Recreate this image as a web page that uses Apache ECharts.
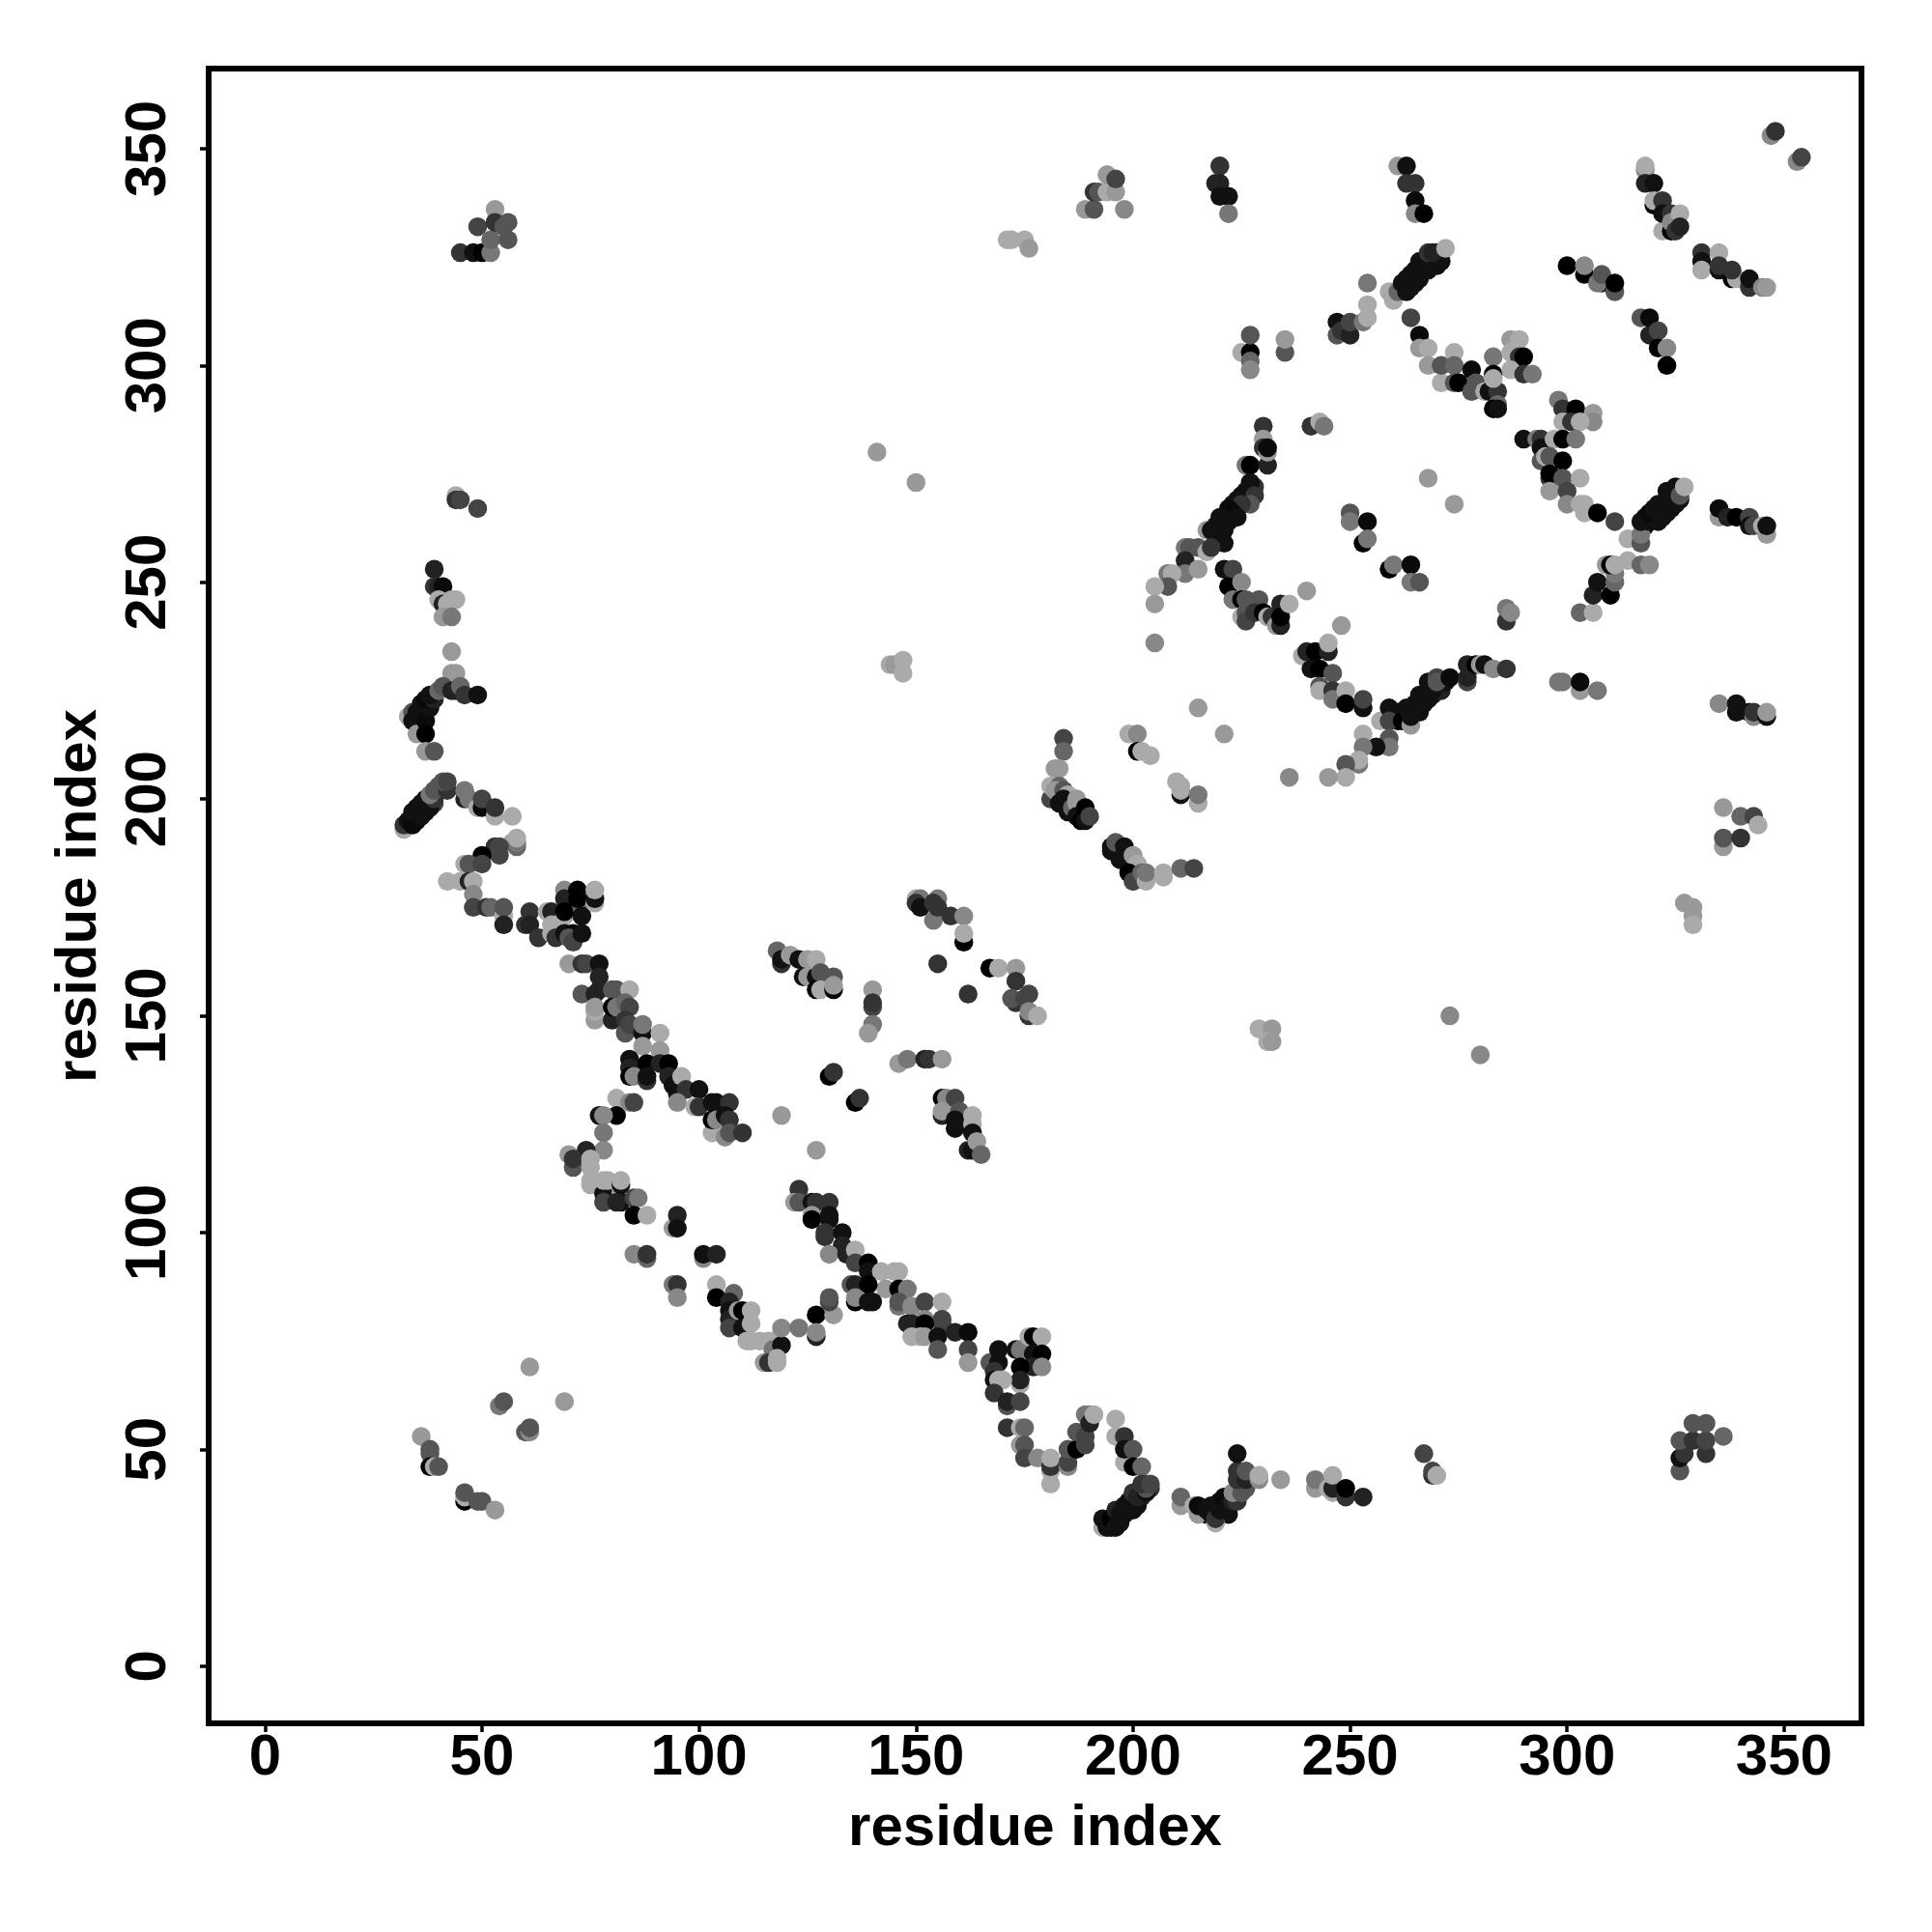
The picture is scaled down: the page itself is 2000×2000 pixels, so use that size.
<!DOCTYPE html>
<html>
<head>
<meta charset="utf-8">
<script src="https://cdn.jsdelivr.net/npm/echarts@6/dist/echarts.min.js"></script>
<style>html,body{margin:0;padding:0;background:#fff}#c{width:2000px;height:2000px}</style>
</head>
<body>
<div id="c"></div>
<script>
const tickValues = [0, 50, 100, 150, 200, 250, 300, 350];
const axisTitle = "residue index";
// each point: [residue i, residue j, grey level]
const denseBands = [
[267,323,17],[269,324,34],[270,325,17],[266,320,17],[267,322,17],[268,323,17],[270,326,17],[271,326,34],[270,323,17],
[260,219,17],[261,220,10],[261,218,10],[262,220,17],[263,219,17],[264,221,17],[265,220,17],[266,222,17],[266,220,17],[267,224,17],[268,223,17],[269,224,17],[270,226,85],[271,227,68],[271,225,34],[272,227,17],
[219,263,17],[221,265,17],[222,266,17],[223,268,10],[224,267,17],[225,270,17],[226,271,17],[226,269,17],[228,272,51],[219,261,17],[220,261,17],
[318,263,17],[321,264,17],[322,265,17],[323,266,17],[324,267,17],[325,268,17],[325,270,17],[324,270,17],[326,271,34],
[33,194,17],[35,195,10],[35,197,10],[36,198,17],[37,198,17],[38,199,17],[37,197,17],[39,199,68],
[36,218,17],[36,220,10],[37,220,17],[37,222,17],[38,222,10],[36,216,10],[35,219,10],[38,223,17],[39,224,51],
[195,33,10],[196,34,10],[197,34,17],[198,36,17],[199,37,17],[200,38,34],[200,36,17],[201,38,34],[202,40,51],[202,39,51],[203,42,68],[204,41,51],
[216,36,10],[217,35,10],[219,36,17],[220,37,17],[220,38,10],[221,38,17],[222,39,17],[223,39,17],[222,35,17],[224,40,51],[225,42,85]
];
const leftUpper = [
[44,270,170],[44,269,51],[45,269,68],[49,267,68],[39,253,34],[39,249,51],[40,249,34],[41,249,10],[40,246,170],[41,245,34],[42,245,170],[43,246,170],[44,246,170],[41,242,153],[43,242,119],[43,234,153],[43,229,153],[44,229,153],
[33,219,170],[34,220,85],[35,220,17],[34,218,17],[35,217,17],[35,215,153],[37,218,10],[37,215,0],[36,222,17],[38,221,17],[37,223,10],[39,223,34],[38,224,17],[40,225,102],[41,226,85],[43,225,34],[44,225,34],[45,226,102],[46,224,51],[49,224,17],[37,211,153],[39,211,85]
];
const leftLower = [
[32,193,170],[32,194,51],[33,195,17],[34,194,10],[34,197,17],[36,196,17],[35,198,17],[36,199,17],[38,198,17],[37,200,17],[39,200,51],[38,201,119],[39,202,85],[40,203,85],[42,202,51],[41,204,85],[42,204,68],
[46,200,34],[46,202,119],[47,200,119],[49,198,170],[50,198,10],[50,200,68],[53,196,170],[53,198,51],[57,196,170],
[57,190,170],[58,189,102],[58,190,119],[58,191,170],[53,189,51],[54,189,68],[54,187,68],[50,187,0],[46,185,170],[47,185,85],[50,185,68],
[42,181,170],[45,181,170],[47,181,34],[48,181,170],[48,178,136],[48,175,68],[51,175,51],[52,175,102],[55,173,170],[55,175,85],[55,171,34]
];
const cornerCluster = [
[61,174,51],[60,171,51],[61,171,34],[63,168,51],[65,174,170],[66,174,34],[66,171,170],[66,169,170],[67,169,170],[67,168,51],[69,173,170],[69,179,136],[69,177,34],[69,174,0],[69,169,17],[71,169,0],[70,168,85],[71,167,68],[73,175,102],[73,173,17],[73,169,17],[72,177,0],[72,179,0],[76,176,170],[76,177,17],[76,179,170]
];
const mainUpper = [
[70,162,153],[73,162,51],[74,162,68],[77,162,17],[77,159,34],[73,155,85],[76,155,34],[77,156,34],[80,156,85],[81,156,85],[84,156,170],
[76,149,153],[76,151,170],[76,152,153],[80,149,34],[80,152,0],[81,152,119],[83,153,102],[84,152,68],[83,149,51],[83,146,85],[84,148,68],[87,146,17],[87,148,119],[87,143,153],[91,146,170],[91,142,153],
[84,140,17],[84,138,34],[84,136,0],[85,136,136],[88,139,0],[88,135,51],[88,136,17],[91,139,34],[93,139,0],[93,136,34],[94,134,17],[96,136,170],[95,132,17],[97,133,51],[100,133,17],[95,130,136],[99,129,170],[100,129,51],[103,130,17],[104,130,17],[107,130,51],[103,123,170],[103,126,0],[104,126,136],[106,127,17],[106,122,136],[107,126,51],[107,123,85],[110,123,51]
];
const mainLowerLeft = [
[81,131,170],[81,127,0],[84,130,136],[85,130,68],[77,127,17],[78,127,136],[78,123,119],[78,119,136],[74,119,34],[70,118,153],[71,115,85],[71,117,51],[75,117,170],[75,115,170],[75,112,170],[75,111,170],
[78,109,17],[78,107,68],[78,112,170],[79,112,170],[82,109,170],[82,107,17],[81,107,34],[82,111,17],[82,112,170],[85,108,68],[86,108,119],[85,104,0],[88,104,170],[94,101,153],[95,104,34],[95,101,17],
[85,95,136],[88,94,102],[88,95,51],[101,94,136],[101,95,17],[104,95,34],[94,88,119],[95,88,51],[95,85,136],
[104,88,170],[104,85,0],[108,86,102],[107,84,34],[107,82,17],[107,80,34],[107,78,68],[109,82,153],[110,82,0],[112,82,170],[110,78,17],[112,79,170],[111,75,170],[112,75,170],[114,75,170],[116,75,170],[117,75,170],[117,73,119],[119,74,17],[115,70,153],[116,70,51],[118,71,170],[118,70,170],[119,78,136],[123,78,119],[127,81,0],[131,81,153],[127,76,34],[127,77,136],[130,84,68],[130,85,85]
];
const midIslands = [
[118,165,102],[119,162,51],[119,163,17],[121,164,153],[123,163,17],[125,163,153],[127,163,170],[124,159,17],[125,159,153],[127,159,17],[128,160,85],[131,159,85],[127,156,0],[128,156,170],[131,156,0],[131,157,153],
[140,156,153],[140,152,68],[140,153,51],[140,148,119],[139,146,153],
[150,177,170],[151,177,119],[150,176,51],[151,175,17],[155,177,119],[154,176,51],[154,172,119],[155,175,51],[158,173,51],[161,173,136],[161,167,0],[161,169,170],
[155,162,51],[162,155,51],[167,161,0],[169,161,170],[173,161,153],[173,158,51],[173,153,51],[172,154,85],[175,154,68],[176,155,68],[176,150,51],[176,151,136],[178,150,170],
[146,139,153],[148,140,119],[152,140,34],[153,140,51],[156,140,153],[130,136,0],[131,137,51],[136,130,0],[137,131,51],[119,127,153],[127,119,153],
[156,131,0],[157,131,136],[159,131,68],[156,127,34],[156,128,153],[160,128,85],[159,126,17],[159,124,17],[163,127,170],[163,125,170],[163,123,17],[162,119,34],[163,119,17],[164,121,153],[165,118,102]
];
const mainLower = [
[123,110,51],[122,107,153],[123,107,85],[126,107,17],[127,107,51],[130,107,51],[126,104,153],[126,103,0],[130,104,17],[130,103,17],[129,99,51],[129,100,51],[133,100,17],[133,97,34],[130,95,136],[134,95,34],[136,96,170],[136,93,68],[139,93,0],[139,91,17],[142,91,170],[145,91,170],[146,91,170],[143,87,153],[135,88,85],[136,88,34],[139,88,0],[136,84,0],[136,85,136],[139,84,17],[140,84,17],[146,87,0],[148,87,119],[146,83,119],[146,84,85],[149,83,136],[152,84,68],[156,84,170],[152,80,136],[156,79,68],[156,80,68],[148,79,34],[149,79,34],[152,79,0],[149,76,170],[151,76,170],[152,76,153],[155,76,17],[159,77,34],[162,77,10],[162,73,68],[155,73,85],[162,70,153],
[167,70,85],[169,73,17],[169,70,17],[168,68,51],[173,73,17],[174,73,119],[176,76,170],[177,76,0],[179,76,170],[177,72,17],[179,72,0],[177,69,34],[179,69,136],[174,65,170],[174,69,0],[174,66,34],[168,66,17],[169,66,170],[170,66,170],[168,63,51],[171,60,85],[171,61,34],[174,61,68],
[171,55,51],[174,55,170],[175,55,102],[174,51,153],[175,51,85],[175,48,68],[178,48,136],[181,42,170],[181,45,170],[181,46,51],[181,48,170],[185,46,136],[185,47,68],[185,50,85],[187,50,0],[187,54,85],[189,53,68],[189,51,68],[189,58,119],[190,58,119],[190,56,34],[191,58,170],
[196,53,170],[196,57,170],[198,47,170],[198,53,51],[198,50,17],[200,50,85],[200,46,0],[202,46,102],[193,32,170],[193,34,17],[194,32,17],[194,33,17],[195,32,17],[195,34,0],[196,32,17],[196,36,34],[197,33,17],[197,35,17],[198,35,17],[198,37,17],[199,36,17],[199,38,17],[200,40,51],[201,37,17],[201,39,34],[203,40,17],[203,41,85],[202,42,51],[204,42,68]
];
const bottomRun = [
[211,37,153],[211,39,102],[214,37,170],[215,35,153],[215,37,10],[217,36,17],[218,35,17],[218,37,17],[219,33,170],[219,34,51],[220,36,17],[221,36,17],[221,39,10],[222,37,17],[223,38,34],[224,38,51],[223,40,136],[225,40,85],[226,41,85],[224,43,51],[224,45,51],[224,49,17],[226,43,34],[226,45,85],[229,43,136],[229,44,170],[234,43,153],
[242,41,153],[242,43,119],[245,41,170],[246,40,170],[246,41,34],[246,44,170],[249,39,51],[249,41,0],[253,39,34],[267,49,68],[269,44,51],[269,45,68],[270,44,170],
[326,45,85],[326,48,17],[327,49,51],[326,52,85],[329,52,51],[329,56,85],[332,49,51],[332,52,68],[332,56,85],[336,53,102]
];
const lowerLeftSparse = [
[61,69,153],[69,61,153],[54,60,119],[55,61,85],[60,54,85],[61,54,136],[61,55,85],[36,53,153],[38,50,85],[38,49,85],[38,46,0],[39,46,170],[40,46,85],[46,38,0],[46,39,170],[46,40,85],[49,38,85],[50,38,85],[53,36,153]
];
const rightStreak = [
[226,277,119],[227,277,0],[231,277,34],[230,286,51],[230,283,153],[230,281,51],[231,280,153],[231,281,10],[227,273,17],[227,272,17],[228,270,51],[227,268,85],[224,269,17],[225,268,51],[223,266,17],[222,267,10],[224,265,17],[220,265,17],[222,264,17],[220,263,17],[217,262,153],[218,262,17],[221,262,17],[221,259,17],[212,258,119],[213,258,85],[215,258,85],[217,257,170],[218,258,51],[212,255,34],
[212,252,119],[215,253,153],[208,252,119],[209,252,170],[208,249,85],[205,249,170],[205,245,153],[205,236,136],
[241,286,51],[243,287,170],[244,286,119],[268,274,153],[274,268,153],[250,266,85],[250,264,119],[254,264,10],[253,259,0],[254,260,119],[259,253,0],[260,254,119],[264,254,10],[264,250,119],[266,250,85]
];
const innerArc = [
[221,253,17],[223,253,68],[222,249,0],[225,250,136],[223,246,119],[225,246,0],[226,246,85],[229,246,85],[225,242,170],[226,243,85],[226,241,68],[228,243,51],[230,243,0],[231,242,170],[232,242,51],[234,245,34],[233,240,153],[234,240,34],[234,242,0],[236,245,170],[240,248,153],[248,240,153],
[239,233,170],[240,234,34],[242,234,0],[245,234,34],[245,236,170],[241,230,17],[243,230,0],[246,229,85],[243,226,85],[243,225,170],[246,225,51],[246,223,119],[249,225,170],[249,222,0],[253,221,17],[253,223,68]
];
const risingArc = [
[257,218,170],[259,221,17],[259,218,68],[262,218,0],[264,217,153],[264,219,17],[263,221,17],[265,222,17],[267,222,17],[266,224,17],[269,225,17],[268,225,17],[268,227,17],[270,228,68],[270,227,85],[273,228,10],[277,227,68],[277,228,34],[277,231,34],[279,231,0],[280,231,153],[281,231,17],[283,230,136],[286,230,51],
[259,214,85],[259,212,119],[256,212,17],[253,215,170],[253,212,119],[252,208,119],[252,209,170],[249,208,85],[249,205,170],[245,205,153],[236,205,136],
[215,221,153],[221,215,153],[199,215,170],[201,215,136],[201,211,0],[202,211,170],[204,210,170],[210,204,170],[211,203,170],[211,201,17],[211,202,170],[215,199,170],[215,201,119],
[286,241,51],[286,244,119],[287,243,136],[298,227,119],[299,227,119],[303,225,153],[303,227,10],[307,225,119]
];
const diagLeft = [
[184,214,68],[184,211,102],[182,207,153],[183,207,153],[181,200,68],[181,203,170],[183,203,102],[182,202,153],[184,202,85],[185,201,170],[183,199,17],[184,200,17],[185,197,17],[186,198,102],[187,199,153],[187,200,153],[187,196,17],[189,198,0],[188,195,0],[189,195,17],[190,196,68],
[195,188,17],[195,189,17],[196,190,85],[198,189,17],[197,186,17],[200,187,153],[201,185,170],[199,183,0],[200,181,68],[202,183,102],[203,181,170],[203,183,119],[207,182,170],[207,183,170],[211,184,102],[214,184,68]
];
const upperRight = [
[300,323,0],[304,321,0],[304,323,136],[308,319,34],[307,319,119],[308,321,85],[311,317,85],[311,319,0],[317,311,85],[319,311,10],[319,307,34],[321,308,68],[321,304,0],[323,304,136],[323,300,0],
[318,345,136],[318,346,170],[318,342,34],[320,342,17],[320,337,0],[320,338,170],[322,338,51],[322,331,170],[322,335,17],[324,331,0],[324,335,51],[324,333,136],[326,335,170],[325,331,51],[326,332,34],
[331,326,51],[331,324,17],[331,322,170],[335,326,170],[335,322,17],[335,323,51],[338,320,0],[339,320,170],[338,322,51],[342,318,51],[342,320,17],[345,318,136],[346,318,153],
[347,353,136],[348,354,51],[353,347,136],[354,348,68]
];
const topRow = [
[45,326,51],[48,326,17],[50,326,0],[49,332,68],[52,326,119],[52,329,102],[53,336,153],[53,333,51],[55,332,85],[56,333,85],[56,329,85],
[171,329,170],[172,329,170],[175,329,170],[176,327,153],[189,336,153],[191,336,85],[191,340,51],[192,340,85],[194,340,170],[194,344,153],[196,340,153],[196,343,68],[198,336,136],
[219,342,34],[220,346,170],[220,346,51],[220,342,34],[220,339,17],[222,339,17],[222,335,119],[261,346,153],[263,346,17],[263,342,51],[265,342,51],[265,338,10],[265,335,136],[267,335,0]
];
const upperArc = [
[259,317,170],[260,315,170],[261,317,102],[263,317,17],[262,319,17],[264,318,17],[263,320,17],[265,319,17],[264,321,17],[266,321,17],[265,322,17],[268,322,17],[266,324,17],[271,324,17],[268,326,51],[269,326,34],[272,327,170],
[235,303,85],[235,306,153],[225,303,170],[227,303,0],[227,307,85],[227,301,102],[227,299,136],[247,310,17],[247,307,85],[248,308,51],[250,307,34],[250,310,68],[253,310,119],[254,311,170],[254,314,170],[254,319,119],
[264,311,68],[266,307,10],[266,304,153],[268,304,170],[268,300,153],[271,296,170],[271,300,85],[274,303,170],[274,300,102],[274,296,85],[275,296,0],[278,299,10],[278,294,85],[279,296,85],[281,294,170],[282,294,17],[284,294,51],[284,291,102],[283,290,0],[284,290,17],
[283,302,119],[283,298,0],[283,297,170],[287,306,153],[289,306,170],[287,303,170],[289,302,51],[290,302,0],[287,299,170],[290,298,51],[292,298,119]
];
const rightCluster = [
[298,292,119],[299,290,51],[302,290,0],[306,289,153],[306,287,136],[299,287,170],[301,287,51],[303,287,170],
[290,283,17],[293,283,119],[294,283,51],[294,281,17],[297,283,170],[299,283,0],[302,283,119],[294,278,85],[295,279,170],[296,279,85],[299,278,0],[296,274,51],[296,275,0],[299,274,85],[303,274,170],[296,271,153],[300,271,68],[300,268,136],[303,268,170],[304,268,170],[304,266,170],[307,266,0],[311,264,68],
[314,260,170],[317,259,85],[317,261,119],[317,264,17],[319,264,17],[318,265,17],[320,265,17],[319,266,10],[321,266,17],[320,267,17],[322,267,17],[321,268,17],[324,268,17],[323,269,17],[326,269,17],[323,271,17],[325,272,17],[326,270,85],[327,272,170],
[335,265,153],[335,267,10],[337,265,34],[339,265,0],[342,265,68],[342,263,17],[343,263,68],[345,263,170],[346,261,153],[346,263,17],
[303,243,102],[306,243,170],[306,247,34],[310,247,0],[307,250,17],[311,250,102],[311,252,119],[309,254,153],[310,254,0],[311,254,170],[314,255,170],[317,254,102],[319,254,136],
[335,222,136],[339,222,17],[339,220,17],[342,220,17],[343,219,136],[343,220,51],[346,219,17],[346,220,153],
[336,198,153],[340,196,102],[343,196,68],[344,194,170],[336,189,153],[336,191,85],[340,191,51],[327,176,153],[329,175,153],[329,173,153],[329,171,170]
];
const sparsePoints = [
[273,150,136],[280,141,136],[229,147,170],[232,147,153],[231,144,170],[232,144,153],[141,280,153],[150,273,153],[144,231,170],[145,231,153],[147,232,170],[147,229,170]
];
const allPoints = [].concat(denseBands, leftUpper, leftLower, cornerCluster, mainUpper, mainLowerLeft, midIslands, mainLower, bottomRun, lowerLeftSparse, rightStreak, innerArc, risingArc, diagLeft, upperRight, topRow, upperArc, rightCluster, sparsePoints);

const font = '"Liberation Sans", Arial, sans-serif';
const axisCommon = {
  type: 'value', name: axisTitle, nameLocation: 'middle',
  nameTextStyle: {color:'#000', fontFamily:font, fontWeight:'bold', fontSize:60},
  splitLine:{show:false}, axisLine:{show:false, onZero:false},
  axisTick:{show:true, length:9, lineStyle:{color:'#000', width:3.5}, customValues: tickValues},
};
const chart = echarts.init(document.getElementById('c'), null, {renderer:'canvas'});
chart.setOption({
  animation:false, backgroundColor:'#fff',
  grid:{left:216, top:71, width:1711, height:1713, show:true, borderColor:'#000', borderWidth:6, backgroundColor:'transparent', containLabel:false},
  xAxis:Object.assign({}, axisCommon, {min:-12.98, max:367.83, nameGap:79,
    axisLabel:{color:'#000', fontFamily:font, fontWeight:'bold', fontSize:60, margin:6, customValues:tickValues, hideOverlap:false, showMinLabel:true, showMaxLabel:true}}),
  yAxis:Object.assign({}, axisCommon, {min:-13.2, max:368.47, nameGap:104,
    axisLabel:{color:'#000', fontFamily:font, fontWeight:'bold', fontSize:60, margin:32, rotate:90, customValues:tickValues, hideOverlap:false, showMinLabel:true, showMaxLabel:true}}),
  series:[{type:'scatter', data:allPoints, symbol:'circle', symbolSize:19.5, large:false, progressive:0,
    itemStyle:{opacity:1, color:p=>{const g=p.value[2]; return 'rgb('+g+','+g+','+g+')';}},
    encode:{x:0,y:1}}]
});
</script>
</body>
</html>
